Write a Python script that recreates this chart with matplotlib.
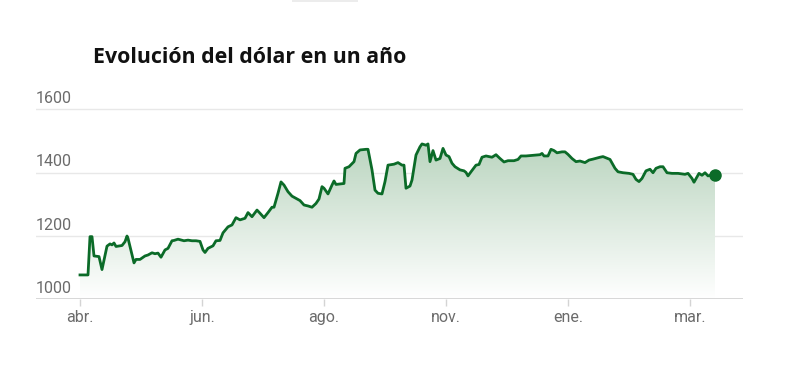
import numpy as np
import matplotlib
matplotlib.use("Agg")
import matplotlib.pyplot as plt
import matplotlib.transforms as mtransforms
from matplotlib.colors import LinearSegmentedColormap
from matplotlib.patches import Polygon, Rectangle

title = "Evolución del dólar en un año"

# days since start of window
days = [0, 4, 5, 6, 7, 9.5, 11, 13.5, 15, 16, 17, 18, 21, 22.5, 23.5, 24, 27, 28, 30, 32.5,
        34, 36, 37.5, 39, 40.5, 42.5, 44, 46, 47, 49, 52, 54, 56, 58, 60, 61.5, 62.5, 64, 66.5, 68,
        70, 71.5, 74, 76, 78, 80, 82.5, 84, 86, 88.5, 90, 92, 94, 96, 97, 99, 100.5, 102, 104, 106,
        108, 110, 112, 114, 116, 118, 119.5, 121, 122, 124, 126, 127, 128, 132, 132.5, 134.5, 137, 138, 140, 143,
        144, 146, 147.5, 149, 151, 152.5, 154, 157, 159, 161, 162, 163, 165, 166, 168, 170, 171, 173, 174, 175,
        176.5, 178, 180, 181.5, 183, 184.5, 186, 187.5, 190, 192, 193, 194, 195.5, 198, 199.5, 201, 203, 206,
        208, 210, 212, 214, 217, 219, 220.5, 223, 226.5, 230, 231, 232, 234, 235.5, 237, 238.5, 241, 242.5,
        244, 246, 248, 250, 252.5, 254.5, 256.5, 260, 261.5, 263, 265, 267.5, 269, 271.5, 274.5, 276.5, 278, 279.5,
        281, 283, 285, 286.5, 288, 290, 291.5, 293.5, 296, 299, 302.5, 304, 306, 307, 308.5, 309.5, 311, 312.5,
        314, 316, 317.5]

values = [1077, 1077, 1198, 1198, 1137, 1135, 1094, 1168, 1175, 1172, 1178, 1167, 1170, 1182, 1200, 1193, 1115, 1126, 1126, 1137,
          1140, 1147, 1144, 1146, 1133, 1156, 1161, 1185, 1186, 1190, 1185, 1187, 1185, 1185, 1183, 1156, 1148, 1161, 1169, 1185,
          1186, 1210, 1229, 1235, 1258, 1251, 1256, 1274, 1261, 1282, 1272, 1258, 1274, 1291, 1291, 1335, 1371, 1361, 1340, 1326,
          1319, 1312, 1298, 1295, 1291, 1303, 1317, 1356, 1351, 1333, 1361, 1374, 1363, 1366, 1414, 1419, 1435, 1461, 1472, 1474,
          1474, 1409, 1345, 1335, 1333, 1372, 1424, 1427, 1432, 1424, 1424, 1351, 1358, 1377, 1456, 1482, 1491, 1487, 1491, 1435,
          1470, 1440, 1445, 1477, 1456, 1451, 1430, 1419, 1409, 1406, 1401, 1390, 1403, 1424, 1426, 1449, 1453, 1449,
          1457, 1445, 1434, 1438, 1438, 1442, 1453, 1453, 1455, 1457, 1461, 1453, 1453, 1474, 1470, 1463, 1466, 1466,
          1458, 1445, 1435, 1437, 1432, 1440, 1443, 1449, 1451, 1447, 1442, 1414, 1403, 1400, 1398, 1395, 1379, 1372,
          1382, 1406, 1411, 1400, 1414, 1419, 1419, 1400, 1398, 1398, 1395, 1398, 1382, 1370, 1387, 1398, 1392, 1400,
          1390, 1393, 1392]

tick_days = [0, 61, 122, 183, 244, 305]
tick_labels = ["abr.", "jun.", "ago.", "nov.", "ene.", "mar."]
y_ticks = [1000, 1200, 1400, 1600]

GREEN = "#0b6b28"
GRAY_TXT = "#6b6b6b"

fig = plt.figure(figsize=(8, 3.78), dpi=100)
ax = fig.add_axes([0.045, 0.2082, 0.88375, 0.519])
ax.set_xlim(-22, 331.5)
ax.set_ylim(1000, 1620)

for s in ax.spines.values():
    s.set_visible(False)

# gridlines
for yv in y_ticks[1:]:
    ax.axhline(yv, color="#e8e8e8", lw=1.0, zorder=0)
ax.axhline(y_ticks[0], color="#d4d4d4", lw=1.3, zorder=3)

# gradient fill under line
x = np.array(days, dtype=float)
y = np.array(values, dtype=float)
verts = np.column_stack([np.concatenate([x, [x[-1], x[0]]]),
                         np.concatenate([y, [1000, 1000]])])
poly = Polygon(verts, closed=True, facecolor="none", edgecolor="none")
ax.add_patch(poly)
cmap = LinearSegmentedColormap.from_list(
    "g", [(1, 1, 1, 1), (0.73, 0.835, 0.75, 1)])
grad = np.linspace(0, 1, 256).reshape(-1, 1)
im = ax.imshow(grad, extent=[x[0], x[-1], 1000, y.max()], origin="lower",
               aspect="auto", cmap=cmap, zorder=1, vmin=0, vmax=1)
im.set_clip_path(poly)

ax.plot(x, y, color=GREEN, lw=2.0, zorder=4, solid_joinstyle="round")
ax.plot([x[-1]], [y[-1]], "o", color=GREEN, ms=8, zorder=5)

# y labels above gridlines
trans = mtransforms.blended_transform_factory(ax.transAxes, ax.transData)
offset = mtransforms.ScaledTranslation(0, 2.5 / 72, fig.dpi_scale_trans)
for yv in y_ticks:
    ax.text(-0.001, yv, str(yv), transform=trans + offset, ha="left", va="bottom",
            fontsize=11.5, color=GRAY_TXT, family="Roboto")

ax.set_yticks([])
ax.set_xticks(tick_days)
ax.set_xticklabels(tick_labels, fontsize=11.5, color=GRAY_TXT, family="Roboto")
ax.tick_params(axis="x", length=5, width=1, color="#d4d4d4", pad=3)

fig.text(93 / 800, (378 - 63) / 378, title, fontsize=15.4, fontweight="bold",
         family="Open Sans", color="#111111", va="baseline", ha="left")

# faint UI tab at the top
fig.patches.append(Rectangle((292 / 800, 376 / 378), 66 / 800, 2 / 378,
                             transform=fig.transFigure, facecolor="#ececec",
                             edgecolor="none"))

fig.savefig("out.png", dpi=100, facecolor="white")
